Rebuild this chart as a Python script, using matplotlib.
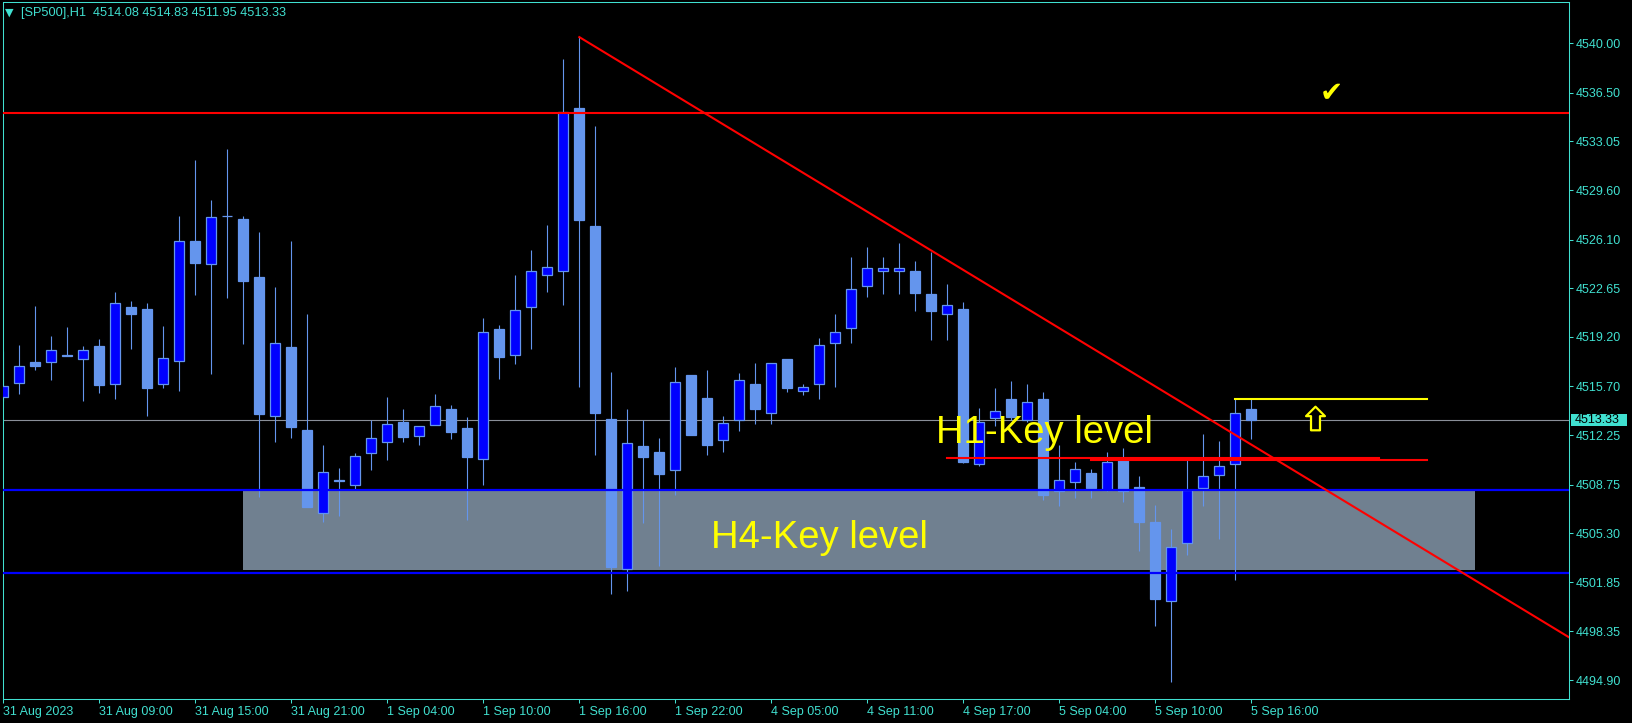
import matplotlib.pyplot as plt
import matplotlib.transforms as mtransforms
from matplotlib.patches import Rectangle
from matplotlib.path import Path

plt.rcParams['font.family'] = ['Liberation Sans', 'DejaVu Sans']

# hourly candles, SP500 H1, 31 Aug - 5 Sep 2023
opens = [4514.98, 4515.97, 4517.41, 4517.41, 4517.95, 4517.67, 4518.57, 4515.90, 4521.33, 4521.19,
         4515.90, 4517.48, 4525.98, 4524.35, 4527.75, 4527.56, 4523.45, 4513.59, 4518.47, 4512.62,
         4506.72, 4509.02, 4508.70, 4510.98, 4511.73, 4513.20, 4512.17, 4512.95, 4514.09, 4512.74,
         4510.54, 4519.75, 4517.91, 4521.30, 4523.57, 4523.84, 4535.39, 4527.07, 4513.39, 4502.74,
         4511.49, 4511.06, 4509.77, 4516.51, 4514.89, 4511.89, 4513.35, 4515.88, 4513.85, 4517.65,
         4515.36, 4515.85, 4518.76, 4519.82, 4522.79, 4523.85, 4523.85, 4523.88, 4522.25, 4520.81,
         4521.19, 4510.19, 4513.45, 4514.82, 4513.33, 4514.82, 4508.33, 4508.92, 4509.55, 4508.35,
         4510.57, 4508.56, 4506.11, 4500.54, 4504.60, 4508.54, 4509.41, 4510.19, 4514.08]
highs = [4518.21, 4518.64, 4521.40, 4519.28, 4519.91, 4518.57, 4519.06, 4522.39, 4521.75, 4521.61,
         4519.98, 4527.77, 4531.74, 4528.90, 4532.51, 4527.77, 4526.64, 4522.74, 4526.00, 4520.83,
         4511.56, 4509.92, 4511.00, 4513.31, 4514.96, 4514.12, 4512.87, 4515.17, 4514.39, 4513.55,
         4520.54, 4520.05, 4523.60, 4525.36, 4527.10, 4538.88, 4540.43, 4534.14, 4516.72, 4514.12,
         4513.31, 4512.05, 4517.08, 4516.51, 4516.87, 4513.61, 4516.63, 4517.34, 4517.34, 4517.65,
         4515.85, 4519.13, 4520.83, 4524.87, 4525.58, 4524.87, 4525.86, 4524.59, 4525.25, 4522.96,
         4521.66, 4514.18, 4515.59, 4516.09, 4515.88, 4515.31, 4511.56, 4510.36, 4509.86, 4511.06,
         4511.32, 4509.34, 4507.31, 4505.61, 4510.54, 4512.34, 4511.84, 4514.82, 4514.83]
lows = [4514.70, 4515.19, 4516.89, 4516.18, 4517.85, 4514.70, 4515.26, 4514.84, 4518.36, 4513.64,
        4515.62, 4515.41, 4522.20, 4516.61, 4521.99, 4518.73, 4507.90, 4511.80, 4512.08, 4507.19,
        4506.13, 4506.53, 4508.43, 4509.78, 4510.51, 4511.79, 4511.57, 4512.95, 4511.95, 4506.26,
        4508.75, 4516.26, 4517.26, 4518.32, 4522.35, 4521.49, 4515.69, 4510.87, 4501.03, 4501.25,
        4506.06, 4503.01, 4508.02, 4512.29, 4510.87, 4511.09, 4512.57, 4513.07, 4513.07, 4515.31,
        4515.12, 4514.84, 4515.69, 4518.80, 4522.06, 4522.27, 4522.27, 4521.07, 4519.02, 4519.02,
        4510.30, 4510.10, 4512.93, 4513.30, 4513.20, 4507.66, 4507.24, 4507.83, 4507.83, 4508.30,
        4507.55, 4504.08, 4498.77, 4494.80, 4503.77, 4507.26, 4504.93, 4502.02, 4511.95]
closes = [4515.74, 4517.13, 4517.18, 4518.26, 4517.88, 4518.26, 4515.81, 4521.59, 4520.86, 4515.62,
          4517.69, 4525.98, 4524.47, 4527.68, 4527.75, 4523.19, 4513.78, 4518.76, 4512.86, 4507.19,
          4509.62, 4509.02, 4510.76, 4512.03, 4513.01, 4512.09, 4512.87, 4514.28, 4512.44, 4510.73,
          4519.54, 4517.75, 4521.08, 4523.84, 4524.14, 4535.11, 4527.50, 4513.85, 4502.93, 4511.68,
          4510.73, 4509.53, 4516.00, 4512.29, 4511.58, 4513.09, 4516.14, 4514.13, 4517.34, 4515.62,
          4515.64, 4518.61, 4519.54, 4522.58, 4524.07, 4524.07, 4524.07, 4522.30, 4521.07, 4521.45,
          4510.38, 4513.16, 4513.94, 4513.56, 4514.58, 4508.02, 4509.06, 4509.84, 4508.54, 4510.33,
          4508.33, 4506.13, 4500.68, 4504.31, 4508.35, 4509.34, 4510.05, 4513.80, 4513.33]

time_labels = ['31 Aug 2023', '31 Aug 09:00', '31 Aug 15:00', '31 Aug 21:00', '1 Sep 04:00',
               '1 Sep 10:00', '1 Sep 16:00', '1 Sep 22:00', '4 Sep 05:00', '4 Sep 11:00',
               '4 Sep 17:00', '5 Sep 04:00', '5 Sep 10:00', '5 Sep 16:00']
time_label_bars = [0, 6, 12, 18, 24, 30, 36, 42, 48, 54, 60, 66, 72, 78]
price_ticks = [4540.00, 4536.50, 4533.05, 4529.60, 4526.10, 4522.65, 4519.20, 4515.70,
               4512.25, 4508.75, 4505.30, 4501.85, 4498.35, 4494.90]

last_price = 4513.33
resistance = 4535.05
zone_top, zone_bottom = 4508.37, 4502.52
trend_start = (36, 4540.43)
trend_end = (97.9, 4497.91)

AXIS = '#40E0D0'
BULL = '#0000FF'
BEAR = '#6495ED'

fig = plt.figure(figsize=(16.33, 7.23), dpi=100, facecolor='black')
ax = fig.add_axes([3 / 1633, 1 - 699.3 / 723, 1566.4 / 1633, 697.8 / 723])
ax.set_facecolor('black')

# H4 zone box
ax.add_patch(Rectangle((15, 4502.73), 77, 5.57, facecolor='#708090', edgecolor='none', zorder=0))
ax.axhline(last_price, color='#8a8f99', lw=0.8, zorder=1)

x = range(len(opens))
ax.vlines(x, lows, highs, color=BEAR, lw=0.8, zorder=2)
for i in x:
    o, c = opens[i], closes[i]
    bottom = min(o, c)
    h = max(abs(c - o), 0.04)
    fc = BULL if c > o else BEAR
    ax.bar(i, h, bottom=bottom, width=0.63, color=fc, edgecolor=BEAR, lw=0.9, zorder=3)

ax.axhline(resistance, color='red', lw=1.5, zorder=4)
ax.axhline(zone_top, color=BULL, lw=1.6, zorder=4)
ax.axhline(zone_bottom, color=BULL, lw=1.6, zorder=4)
ax.plot([trend_start[0], trend_end[0]], [trend_start[1], trend_end[1]], color='red', lw=1.5, zorder=4)
ax.plot([59, 86], [4510.66, 4510.66], color='red', lw=1.5, zorder=4)
ax.plot([68, 89], [4510.47, 4510.47], color='red', lw=1.5, zorder=4)
ax.plot([77, 89], [4514.81, 4514.81], color='yellow', lw=1.5, zorder=4)

ax.text(44.2, 4504.24, 'H4-Key level', color='yellow', fontsize=27.5, ha='left', va='baseline', zorder=5)
ax.text(58.3, 4511.68, 'H1-Key level', color='yellow', fontsize=27.5, ha='left', va='baseline', zorder=5)

arrow = Path([(0, 0.5), (0.4, 0.1), (0.19, 0.1), (0.19, -0.5), (-0.19, -0.5),
              (-0.19, 0.1), (-0.4, 0.1), (0, 0.5)], closed=True)
ax.plot([82], [4513.47], marker=arrow, markersize=17, markerfacecolor='black',
        markeredgecolor='yellow', markeredgewidth=1.6, zorder=6)
ax.text(83, 4536.5, '\u2714', color='yellow', fontsize=20, ha='center', va='center',
        family='DejaVu Sans', zorder=6)

ax.set_xlim(-0.02, 97.88)
ax.set_ylim(4493.55, 4542.95)

ax.yaxis.tick_right()
ax.set_yticks(price_ticks)
ax.set_yticklabels(['%.2f' % p for p in price_ticks])
ax.set_xticks(time_label_bars)
ax.set_xticklabels(time_labels)
for lbl in ax.get_xticklabels():
    lbl.set_horizontalalignment('left')
ax.tick_params(colors=AXIS, labelcolor=AXIS, length=3, width=0.75, pad=1.5, labelsize=9)
for s in ax.spines.values():
    s.set_color(AXIS)
    s.set_linewidth(0.75)

# last price tag on the axis
blend = mtransforms.blended_transform_factory(ax.transAxes, ax.transData)
ax.add_patch(Rectangle((1.0009, last_price - 0.45), 56 / 1566.4, 0.9, transform=blend,
                       facecolor=AXIS, edgecolor='none', clip_on=False, zorder=7))
ax.text(1.0036, last_price, '%.2f' % last_price, transform=blend, color='black', fontsize=9,
        ha='left', va='center', clip_on=False, zorder=8)

fig.text(5 / 1633, 1 - 12.5 / 723, '\u25bc', color=AXIS, fontsize=8, va='center',
         family='DejaVu Sans')
fig.text(20.7 / 1633, 1 - 12.7 / 723, '[SP500],H1  4514.08 4514.83 4511.95 4513.33',
         color=AXIS, fontsize=9.2, va='center')

fig.savefig('out.png', dpi=100, facecolor='black')
